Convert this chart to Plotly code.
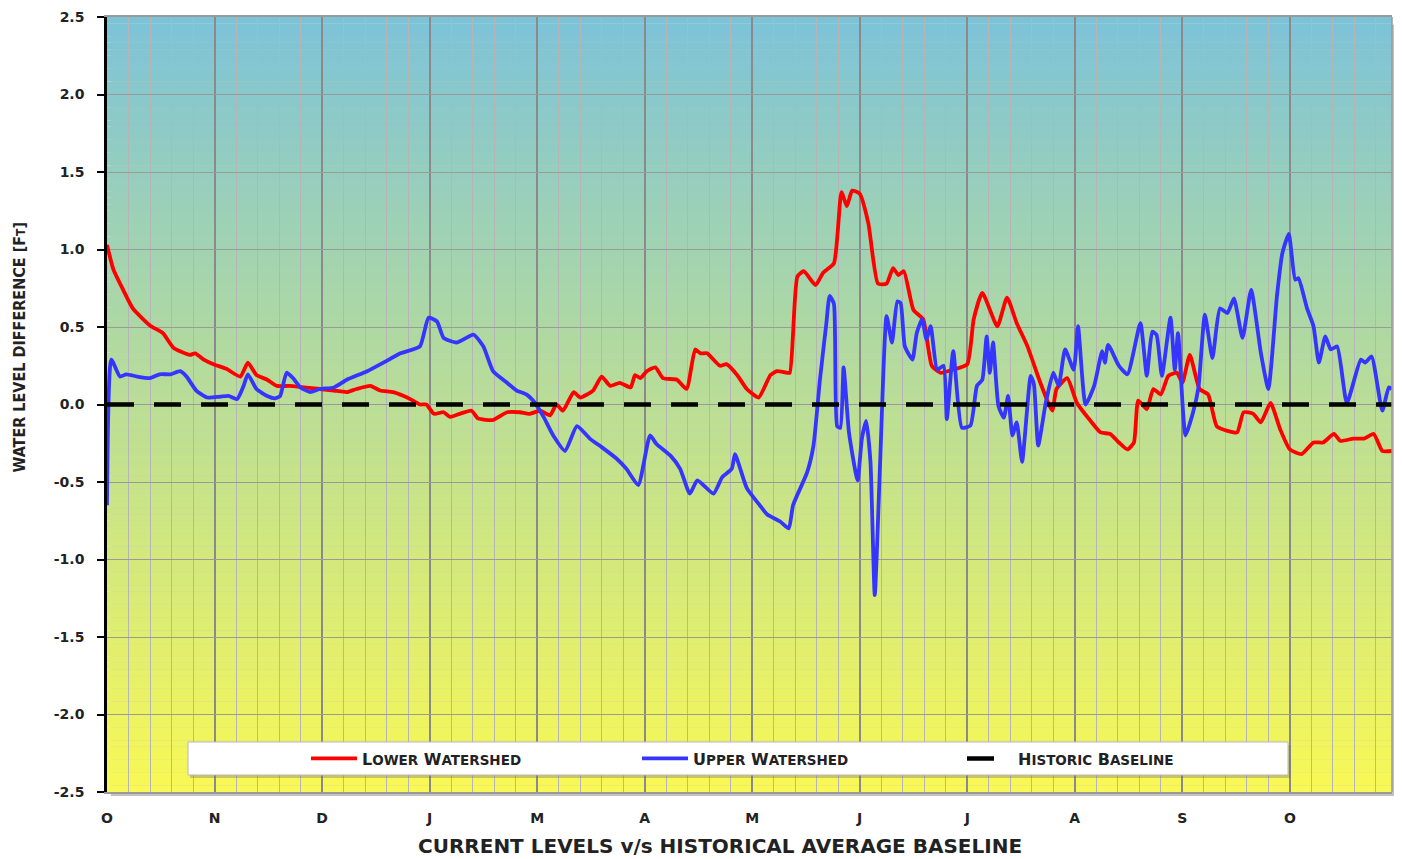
import plotly.graph_objects as go

# ---------------- data (x in month units from start, y in ft) ----------------
month_labels = ["O", "N", "D", "J", "M", "A", "M", "J", "J", "A", "S", "O"]
month_pos = list(range(12))

lower_x = [0.00, 0.06, 0.15, 0.24, 0.40, 0.52, 0.62, 0.77, 0.82, 0.90, 0.99, 1.11, 1.24, 1.31, 1.39,
           1.49, 1.58, 1.70, 1.83, 1.98, 2.11, 2.23, 2.32, 2.45, 2.54, 2.66, 2.76, 2.82, 2.91, 2.97,
           3.04, 3.13, 3.19, 3.28, 3.39, 3.45, 3.59, 3.72, 3.84, 3.93, 4.03, 4.12, 4.18, 4.24, 4.34,
           4.40, 4.52, 4.60, 4.68, 4.77, 4.87, 4.91, 4.96, 5.02, 5.10, 5.17, 5.30, 5.39, 5.47, 5.52,
           5.58, 5.70, 5.76, 5.86, 5.95, 6.06, 6.17, 6.23, 6.32, 6.35, 6.42, 6.48, 6.59, 6.66, 6.76,
           6.83, 6.88, 6.93, 7.00, 7.08, 7.17, 7.25, 7.31, 7.36, 7.41, 7.50, 7.59, 7.67, 7.75, 7.87,
           8.00, 8.06, 8.14, 8.28, 8.37, 8.46, 8.56, 8.68, 8.79, 8.83, 8.93, 9.02, 9.14, 9.24, 9.33,
           9.41, 9.49, 9.55, 9.59, 9.67, 9.73, 9.80, 9.87, 9.95, 10.00, 10.07, 10.16, 10.24, 10.32,
           10.42, 10.51, 10.57, 10.66, 10.73, 10.82, 10.91, 11.00, 11.11, 11.22, 11.31, 11.41, 11.47,
           11.59, 11.69, 11.78, 11.86, 11.95]
lower_y = [1.03, 0.87, 0.74, 0.62, 0.51, 0.46, 0.365, 0.32, 0.33, 0.29, 0.26, 0.23, 0.18, 0.27, 0.19,
           0.16, 0.12, 0.12, 0.11, 0.10, 0.09, 0.08, 0.10, 0.12, 0.09, 0.08, 0.055, 0.035, 0.0, 0.0,
           -0.06, -0.05, -0.08, -0.06, -0.04, -0.09, -0.10, -0.05, -0.05, -0.06, -0.04, -0.07, 0.0, -0.04, 0.08,
           0.045, 0.09, 0.18, 0.12, 0.14, 0.11, 0.19, 0.17, 0.215, 0.24, 0.17, 0.16, 0.10, 0.355, 0.33,
           0.33, 0.25, 0.26, 0.19, 0.10, 0.045, 0.19, 0.215, 0.205, 0.205, 0.825, 0.86, 0.77, 0.85, 0.91,
           1.37, 1.28, 1.38, 1.36, 1.17, 0.78, 0.78, 0.88, 0.835, 0.86, 0.61, 0.55, 0.25, 0.205, 0.225,
           0.26, 0.55, 0.72, 0.505, 0.69, 0.525, 0.375, 0.14, -0.04, 0.10, 0.17, 0.01, -0.10, -0.18, -0.19,
           -0.245, -0.29, -0.245, 0.025, -0.03, 0.10, 0.065, 0.185, 0.205, 0.14, 0.32, 0.10, 0.065, -0.14,
           -0.17, -0.18, -0.05, -0.06, -0.115, 0.01, -0.16, -0.29, -0.32, -0.245, -0.245, -0.19, -0.235,
           -0.22, -0.22, -0.19, -0.30, -0.30]

upper_x = [0.00, 0.04, 0.12, 0.18, 0.28, 0.40, 0.49, 0.59, 0.68, 0.74, 0.83, 0.93, 1.05, 1.13, 1.21,
           1.27, 1.31, 1.39, 1.49, 1.56, 1.61, 1.67, 1.73, 1.80, 1.89, 1.98, 2.11, 2.23, 2.42, 2.57,
           2.73, 2.91, 2.99, 3.07, 3.13, 3.25, 3.41, 3.50, 3.59, 3.72, 3.81, 3.90, 3.98, 4.06, 4.15,
           4.26, 4.37, 4.49, 4.60, 4.74, 4.83, 4.94, 5.05, 5.11, 5.24, 5.33, 5.42, 5.49, 5.64, 5.72,
           5.81, 5.84, 5.95, 6.07, 6.14, 6.26, 6.34, 6.38, 6.51, 6.57, 6.63, 6.69, 6.72, 6.76, 6.79,
           6.82, 6.85, 6.90, 6.98, 7.02, 7.06, 7.10, 7.14, 7.19, 7.25, 7.30, 7.35, 7.38, 7.42, 7.49,
           7.53, 7.58, 7.62, 7.66, 7.72, 7.78, 7.81, 7.87, 7.95, 8.03, 8.09, 8.14, 8.18, 8.21, 8.24,
           8.29, 8.34, 8.38, 8.42, 8.46, 8.51, 8.59, 8.62, 8.66, 8.73, 8.80, 8.85, 8.91, 8.99, 9.03,
           9.10, 9.18, 9.255, 9.28, 9.31, 9.41, 9.49, 9.61, 9.67, 9.72, 9.76, 9.81, 9.89, 9.93, 9.96,
           10.03, 10.10, 10.15, 10.21, 10.28, 10.35, 10.42, 10.48, 10.56, 10.64, 10.73, 10.80, 10.88,
           10.93, 10.99, 11.05, 11.08, 11.16, 11.22, 11.27, 11.33, 11.38, 11.44, 11.53, 11.66, 11.70,
           11.76, 11.86, 11.92, 11.95]
upper_y = [-0.65, 0.29, 0.18, 0.195, 0.18, 0.17, 0.195, 0.195, 0.215, 0.18, 0.09, 0.045, 0.05, 0.055, 0.035,
           0.12, 0.195, 0.10, 0.055, 0.04, 0.055, 0.205, 0.17, 0.11, 0.08, 0.10, 0.11, 0.16, 0.215, 0.27,
           0.33, 0.375, 0.56, 0.535, 0.43, 0.40, 0.45, 0.375, 0.215, 0.14, 0.09, 0.065, 0.01, -0.08, -0.20,
           -0.30, -0.14, -0.22, -0.275, -0.35, -0.415, -0.52, -0.20, -0.255, -0.33, -0.415, -0.575, -0.49, -0.575, -0.47,
           -0.415, -0.32, -0.54, -0.65, -0.71, -0.755, -0.80, -0.65, -0.44, -0.265, 0.16, 0.525, 0.70, 0.65, -0.14,
           -0.15, 0.24, -0.18, -0.49, -0.22, -0.105, -0.37, -1.23, -0.37, 0.57, 0.40, 0.665, 0.655, 0.375, 0.29,
           0.46, 0.55, 0.42, 0.505, 0.225, 0.25, -0.095, 0.345, -0.15, -0.135, 0.12, 0.16, 0.44, 0.205, 0.40,
           -0.01, -0.085, 0.055, -0.20, -0.115, -0.37, 0.185, 0.13, -0.265, 0.01, 0.205, 0.12, 0.355, 0.225, 0.505,
           0.0, 0.12, 0.345, 0.27, 0.385, 0.25, 0.195, 0.525, 0.185, 0.47, 0.45, 0.185, 0.56, 0.225, 0.46,
           -0.20, -0.05, 0.11, 0.58, 0.30, 0.62, 0.59, 0.685, 0.43, 0.74, 0.335, 0.10, 0.70,
           0.975, 1.10, 0.805, 0.815, 0.62, 0.505, 0.27, 0.44, 0.355, 0.375, 0.01, 0.29, 0.27,
           0.31, -0.04, 0.11, 0.10]

baseline_x = [0.0, 11.95]
baseline_y = [0.0, 0.0]

y_ticks = [2.5, 2.0, 1.5, 1.0, 0.5, 0.0, -0.5, -1.0, -1.5, -2.0, -2.5]

# ---------------- layout geometry helpers ----------------
# the page body adds an 8px offset; design positions are given in window pixels
OFF = 8
W, H = 1394, 851
ML, MT = 99, 9
PW, PH = 1285, 775
MR = W - ML - PW
MB = H - MT - PH


def px_x(p):
    return (p - OFF - ML) / PW


def px_y(p):
    return (H - MB - (p - OFF)) / PH


FONT = "DejaVu Sans"
COND = "'DejaVu Sans Condensed', 'Liberation Sans Narrow', 'Roboto Condensed', Roboto, 'DejaVu Sans', sans-serif"
TXT = "#222222"
SC = "<span style='font-size:13.5px'>%s</span>"

fig = go.Figure()

fig.add_trace(go.Scatter(
    x=lower_x, y=lower_y, mode="lines", name="L" + SC % "OWER" + " W" + SC % "ATERSHED",
    line=dict(color="#ff0000", width=3.8, shape="spline", smoothing=0.5), legend="legend",
))
fig.add_trace(go.Scatter(
    x=upper_x, y=upper_y, mode="lines", name="U" + SC % "PPER" + " W" + SC % "ATERSHED",
    line=dict(color="#3535ff", width=3.8, shape="spline", smoothing=0.5), legend="legend2",
))
fig.add_trace(go.Scatter(
    x=baseline_x, y=baseline_y, mode="lines", name="H" + SC % "ISTORIC" + " B" + SC % "ASELINE",
    line=dict(color="#000000", width=4.5, dash="27px,20px"), legend="legend3",
))

# ---------------- background gradient (bands) ----------------
shapes = []
# plot area shadow
shapes.append(dict(type="rect", xref="paper", yref="paper",
                   x0=0.003, x1=px_x(107 + PW + 4), y0=px_y(792 + 4), y1=0.99,
                   fillcolor="rgba(120,120,120,0.45)", line=dict(width=0), layer="below"))
top_c = (124, 195, 217)
bot_c = (249, 249, 84)
n_bands = 120
ymin, ymax = -2.5, 2.5
for i in range(n_bands):
    y0 = ymin + (ymax - ymin) * i / n_bands
    y1 = ymin + (ymax - ymin) * (i + 1) / n_bands
    t = (i + 0.5) / n_bands
    c = tuple(round(bot_c[k] + (top_c[k] - bot_c[k]) * t) for k in range(3))
    shapes.append(dict(type="rect", xref="paper", yref="y", x0=0, x1=1, y0=y0, y1=y1 + 0.001,
                       fillcolor="rgb(%d,%d,%d)" % c, line=dict(width=0), layer="below"))
# right edge border
shapes.append(dict(type="line", xref="paper", yref="paper", x0=1, x1=1, y0=0, y1=1,
                   line=dict(color="#9a9a9a", width=1.5), layer="above"))
# legend box
shapes.append(dict(type="rect", xref="paper", yref="paper",
                   x0=px_x(190), x1=px_x(1291), y0=px_y(778), y1=px_y(745),
                   fillcolor="rgba(110,110,110,0.35)", line=dict(width=0), layer="above"))
shapes.append(dict(type="rect", xref="paper", yref="paper",
                   x0=px_x(188), x1=px_x(1288), y0=px_y(775), y1=px_y(742),
                   fillcolor="white", line=dict(color="#b8b8b8", width=1), layer="above"))

leg_common = dict(orientation="h", bgcolor="rgba(0,0,0,0)", borderwidth=0,
                  font=dict(family=FONT, size=16, color=TXT, weight="bold"),
                  yanchor="middle", y=px_y(758.5), xanchor="left", itemwidth=46)

fig.update_layout(
    width=W, height=H,
    margin=dict(l=ML, r=MR, t=MT, b=MB, autoexpand=False),
    paper_bgcolor="white", plot_bgcolor="white",
    showlegend=True,
    legend=dict(x=px_x(312 - 6), **leg_common),
    legend2=dict(x=px_x(643 - 6), **leg_common),
    legend3=dict(x=px_x(968 - 6), **leg_common),
    shapes=shapes,
    xaxis=dict(
        range=[0, 11.95], tickmode="array", tickvals=month_pos, ticktext=month_labels,
        showgrid=True, gridcolor="#8a8a8a", gridwidth=1.5,
        minor=dict(tick0=0, dtick=0.2, showgrid=True, gridcolor="#b5b5b5", gridwidth=1),
        zeroline=False, showline=True, linecolor="#9a9a9a", linewidth=1.5, mirror=True,
        ticks="", ticklabelstandoff=12, automargin=False, ticklabeloverflow="allow",
        tickfont=dict(family=FONT, size=14, color=TXT, weight="bold"),
        fixedrange=True,
    ),
    yaxis=dict(
        range=[-2.5, 2.5], tickmode="array", tickvals=y_ticks,
        ticktext=["%.1f" % v for v in y_ticks],
        showgrid=True, gridcolor="#9a9a9a", gridwidth=1.2,
        zeroline=False, showline=True, linecolor="black", linewidth=2.5,
        ticks="outside", ticklen=7, tickwidth=2, tickcolor="black", ticklabelstandoff=10,
        automargin=False, ticklabeloverflow="allow",
        tickfont=dict(family=FONT, size=14, color=TXT, weight="bold"),
        fixedrange=True,
    ),
    annotations=[
        dict(text="CURRENT LEVELS v/s HISTORICAL AVERAGE BASELINE", xref="paper", yref="paper",
             x=px_x(720), y=px_y(846), xanchor="center", yanchor="middle", showarrow=False,
             font=dict(family=FONT, size=20, color=TXT, weight="bold")),
        dict(text="WATER LEVEL DIFFERENCE [F<span style='font-size:12px'>T</span>]", xref="paper", yref="paper",
             x=px_x(18.5), y=px_y(347), xanchor="center", yanchor="middle", showarrow=False, textangle=-90,
             font=dict(family=COND, size=16, color=TXT, weight="bold")),
    ],
)

fig.write_html("out.html")
